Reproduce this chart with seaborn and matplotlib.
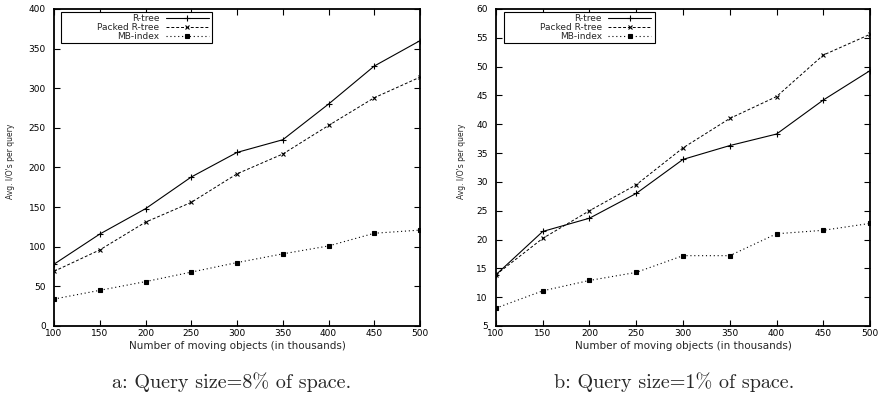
"""Avg. I/O's per query vs number of moving objects, two query sizes side by side."""

import matplotlib
matplotlib.use("Agg")
import matplotlib.pyplot as plt
import seaborn as sns
from matplotlib.path import Path

objects = [100, 150, 200, 250, 300, 350, 400, 450, 500]

# query size 8% of space
rtree_8 = [78, 116, 148, 188, 219, 235, 280, 328, 360]
packed_8 = [69, 96, 131, 156, 192, 217, 253, 288, 314]
mbindex_8 = [34, 45, 56, 68, 80, 91, 101, 117, 121]

# query size 1% of space
rtree_1 = [13.9, 21.4, 23.7, 28.0, 33.9, 36.3, 38.3, 44.2, 49.3]
packed_1 = [13.9, 20.2, 25.0, 29.5, 35.9, 41.0, 44.8, 52.0, 55.6]
mbindex_1 = [8.1, 11.1, 12.9, 14.3, 17.2, 17.2, 21.0, 21.6, 22.8]

labels = ["R-tree", "Packed R-tree", "MB-index"]
captions = ["a: Query size=8% of space.", "b: Query size=1% of space."]

sns.set_style("ticks")
plt.rcParams["font.family"] = ["DejaVu Sans"]

STYLES = [
    dict(linestyle="-", marker="+", markersize=4, linewidth=0.8),
    dict(linestyle=(0, (3, 2)), marker="x", markersize=3.5, linewidth=0.7),
    dict(linestyle=(0, (1, 2.5)), marker="s", markersize=2.6, linewidth=0.8),
]


def gnuplot_key_box(x0, y0, width, height, mutation_size):
    # key frame: wide blank margin on the left, tight elsewhere (gnuplot style)
    left = x0 - 3.8 * mutation_size
    right = x0 + width + 0.15 * mutation_size
    return Path([(left, y0), (right, y0), (right, y0 + height), (left, y0 + height), (left, y0)],
                closed=True)


def draw(ax, series, ylim, yticks, ylabel_x, key_x):
    for values, label, style in zip(series, labels, STYLES):
        sns.lineplot(x=objects, y=values, ax=ax, color="black", label=label,
                     markeredgewidth=0.8, markeredgecolor="black", **style)
    ax.set_xlim(100, 500)
    ax.set_ylim(*ylim)
    ax.set_xticks(objects)
    ax.set_yticks(yticks)
    ax.tick_params(direction="in", length=4, width=0.8, top=True, right=True,
                   labelsize=6.5, colors="black")
    ax.tick_params(axis="y", pad=6)
    ax.tick_params(axis="x", pad=2.5)
    for sp in ax.spines.values():
        sp.set_linewidth(1.3)
        sp.set_color("black")
    ax.set_xlabel("Number of moving objects (in thousands)", fontsize=7.5, labelpad=1.5)
    ax.set_ylabel("Avg. I/O's per query", fontsize=5.5,
                  family=["Liberation Sans Narrow", "DejaVu Sans"])
    ax.yaxis.set_label_coords(ylabel_x, 0.52)
    leg = ax.legend(loc="upper left", bbox_to_anchor=(key_x, 0.99), borderaxespad=0,
                    markerfirst=False, fancybox=False, edgecolor="black", framealpha=1,
                    fontsize=6.5, handlelength=4.8, handletextpad=0.7,
                    labelspacing=0.0, borderpad=0.2)
    frame = leg.get_frame()
    frame.set_linewidth(0.8)
    frame.set_boxstyle(gnuplot_key_box)


fig = plt.figure(figsize=(8.83, 4.04), dpi=100)
ax1 = fig.add_axes([0.0612, 0.1931, 0.4145, 0.7847])
ax2 = fig.add_axes([0.5617, 0.1931, 0.4236, 0.7847])

draw(ax1, [rtree_8, packed_8, mbindex_8], (0, 400), range(0, 401, 50), -0.107, 0.113)
draw(ax2, [rtree_1, packed_1, mbindex_1], (5, 60), range(5, 61, 5), -0.08, 0.112)

fig.text(0.262, 0.055, captions[0], ha="center", va="center", fontsize=14.5, family="cmr10")
fig.text(0.763, 0.055, captions[1], ha="center", va="center", fontsize=14.5, family="cmr10")

fig.savefig("out.png", dpi=100)
